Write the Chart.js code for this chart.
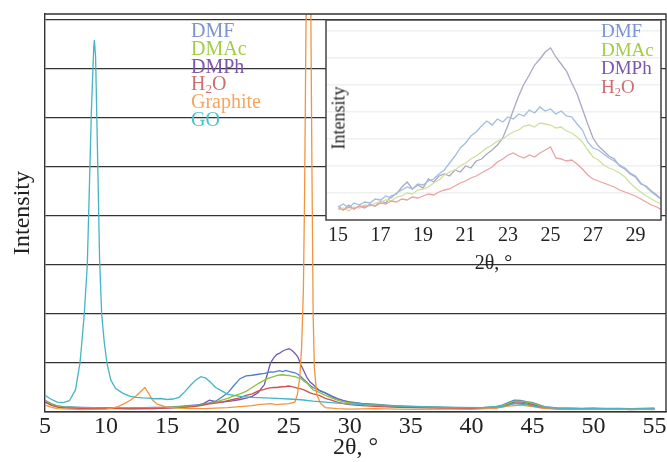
<!DOCTYPE html>
<html>
<head>
<meta charset="utf-8">
<script src="https://cdn.jsdelivr.net/npm/chart.js@4.4.1/dist/chart.umd.min.js"></script>
<style>
  body { margin: 0; background: #fff; }
  #wrap { position: relative; width: 667px; height: 462px; font-family: "Liberation Serif", "Times New Roman", serif; }
  #main { position: absolute; left: 0; top: 0; }
  #inset { position: absolute; left: 300px; top: 0; }
  .legend { position: absolute; line-height: 17.8px; font-size: 20px; white-space: nowrap; }
  .legend div { height: 17.8px; }
  .legend sub { font-size: 0.65em; vertical-align: -0.25em; line-height: 0; }
  #insetLegend { left: 601px; top: 22px; font-size: 19px; line-height: 18.5px; }
  #insetLegend div { height: 18.5px; }
  #mainLegend { left: 191px; top: 22px; }
  #insetYTitle { position: absolute; left: 339px; top: 118px; font-size: 18px; transform: translate(-50%, -50%) rotate(-90deg); white-space: nowrap; color: #222; }
</style>
</head>
<body>
<div id="wrap">
  <canvas id="main" width="667" height="462"></canvas>
  <canvas id="inset" width="367" height="285"></canvas>
  <div class="legend" id="mainLegend">
    <div style="color:#7b93d2">DMF</div>
    <div style="color:#a4cc45">DMAc</div>
    <div style="color:#7d55ad">DMPh</div>
    <div style="color:#cf6e6e">H<sub>2</sub>O</div>
    <div style="color:#f7a55c">Graphite</div>
    <div style="color:#48c2cf">GO</div>
  </div>
  <div class="legend" id="insetLegend">
    <div style="color:#7b93d2">DMF</div>
    <div style="color:#a4cc45">DMAc</div>
    <div style="color:#7d55ad">DMPh</div>
    <div style="color:#cf6e6e">H<sub>2</sub>O</div>
  </div>
  <div id="insetYTitle">Intensity</div>
</div>
<script>
// main pattern, 2θ from 5 to 55
const mainTicks = [5, 10, 15, 20, 25, 30, 35, 40, 45, 50, 55];
const mainGrid = [0, 1000, 2000, 3000, 4000, 5000, 6000, 7000, 8000];

const solventTheta = [
  5, 5.5, 6, 6.5, 7, 8, 9, 10, 11, 12,
  13, 14, 15, 16, 17, 17.5, 18, 18.5, 19, 19.5,
  20, 20.5, 21, 21.5, 22, 22.5, 23, 23.25, 23.5, 23.75,
  24, 24.25, 24.5, 24.75, 25, 25.25, 25.5, 25.75, 26, 26.25,
  26.5, 26.75, 27, 27.5, 28, 28.5, 29, 29.5, 30, 31,
  32, 33, 34, 35, 36, 37, 38, 39, 40, 41,
  42, 42.5, 43, 43.5, 44, 44.5, 45, 45.5, 46, 47,
  48, 49, 50, 51, 52, 53, 54, 55
];
const dmf = [
  240, 170, 125, 110, 105, 95, 90, 90, 85, 85,
  90, 95, 100, 115, 135, 145, 160, 185, 220, 300,
  390, 540, 680, 735, 750, 770, 790, 805, 820, 815,
  830, 845, 825, 850, 830, 815, 800, 770, 720, 660,
  600, 540, 500, 440, 385, 320, 260, 225, 205, 175,
  160, 140, 125, 115, 110, 100, 95, 90, 90, 95,
  110, 140, 190, 240, 235, 210, 190, 150, 110, 85,
  80, 75, 80, 70, 75, 70, 75, 80
];
const dmac = [
  230, 160, 120, 100, 95, 90, 85, 85, 80, 80,
  85, 90, 95, 105, 120, 130, 150, 175, 200, 240,
  280, 330, 370, 420, 500, 580, 650, 680, 700, 720,
  740, 755, 760, 750, 745, 730, 720, 700, 680, 630,
  590, 520, 450, 400, 340, 290, 240, 205, 185, 160,
  145, 130, 115, 105, 100, 95, 90, 85, 85, 90,
  100, 130, 175, 220, 220, 200, 175, 140, 100, 80,
  75, 70, 75, 65, 70, 65, 70, 75
];
const dmph = [
  220, 150, 115, 95, 90, 85, 90, 80, 75, 70,
  75, 70, 85, 95, 120, 140, 170, 240, 210, 200,
  215, 230, 255, 285, 320, 400, 560, 780, 1000, 1100,
  1170, 1200, 1245, 1270, 1290, 1260, 1200, 1120, 960, 830,
  700, 610, 560, 440, 390, 330, 275, 230, 200, 165,
  145, 125, 115, 105, 100, 95, 90, 85, 80, 85,
  95, 115, 160, 200, 210, 185, 160, 110, 85, 70,
  65, 60, 70, 60, 65, 55, 60, 65
];
const water = [
  200, 140, 100, 85, 80, 75, 70, 75, 70, 65,
  70, 75, 80, 90, 105, 120, 140, 165, 180, 200,
  230, 260, 290, 340, 370, 430, 460, 480, 490, 500,
  500, 510, 515, 520, 530, 520, 500, 480, 470, 450,
  420, 390, 370, 340, 280, 240, 200, 170, 150, 130,
  115, 105, 95, 90, 85, 80, 75, 75, 70, 75,
  85, 105, 140, 175, 180, 160, 140, 110, 80, 65,
  60, 55, 60, 55, 60, 50, 55, 60
];

const graphiteTheta = [
  5, 5.5, 6, 7, 8, 9, 10, 10.5, 11, 11.5,
  12, 12.5, 12.9, 13.2, 13.5, 13.8, 14.2, 15, 16, 17,
  18, 19, 20, 21, 22, 22.5, 23, 23.5, 24, 24.5,
  25, 25.5, 25.7, 25.9, 26.05, 26.2, 26.3, 26.4, 26.5, 26.6,
  26.7, 26.8, 26.9, 27.0, 27.1, 27.3, 27.6, 28, 29, 30,
  32, 35, 38, 40, 42, 43, 44, 45, 46, 48,
  50, 52, 55
];
const graphite = [
  140, 100, 70, 60, 50, 55, 60, 80, 110, 170,
  240, 330, 430, 500, 380, 250, 160, 100, 80, 70,
  70, 80, 90, 110, 130, 150, 160, 170, 150, 160,
  170, 200, 350, 700, 1300, 2500, 4500, 7500, 10000, 12000,
  11000, 8500, 5000, 2000, 900, 350, 180, 90, 70, 60,
  70, 55, 60, 55, 80, 120, 140, 110, 70, 60,
  55, 60, 50
];

const goTheta = [
  5, 5.5, 6, 6.5, 7, 7.5, 7.87, 8.05, 8.22, 8.47,
  8.6, 8.8, 9.0, 9.05, 9.15, 9.3, 9.48, 9.65, 9.85, 10.08,
  10.4, 10.8, 11.4, 12, 12.5, 13, 13.5, 14, 14.5, 15,
  15.5, 16, 16.5, 17, 17.4, 17.8, 18.2, 18.6, 19, 19.5,
  20, 20.5, 21, 22, 23, 24, 25, 26, 27, 28,
  29, 30, 31, 32, 33, 34, 35, 37, 39, 41,
  42.5, 43.5, 44.5, 45.5, 47, 49, 51, 53, 55
];
const go = [
  340, 260, 200, 190, 230, 450, 1000, 1500, 2000, 3000,
  4200, 6100, 7450, 7590, 7250, 5400, 3100, 2000, 1450, 1000,
  650, 480, 380, 320, 300, 290, 285, 270, 275, 255,
  265, 300, 420, 560, 660, 720, 690, 600, 500, 430,
  360, 340, 320, 300, 290, 280, 265, 250, 220, 200,
  180, 165, 150, 140, 130, 120, 115, 100, 95, 90,
  110, 170, 150, 100, 80, 70, 75, 65, 70
];

// inset, 2θ from 15 to 30
const insetTicks = [15, 17, 19, 21, 23, 25, 27, 29];
const insetGrid = [270, 540, 810, 1080, 1350, 1620, 1890];
const insetTheta = [
  15, 15.25, 15.5, 15.75, 16, 16.25, 16.5, 16.75,
  17, 17.25, 17.5, 17.75, 18, 18.25, 18.5, 18.75,
  19, 19.25, 19.5, 19.75, 20, 20.25, 20.5, 20.75,
  21, 21.25, 21.5, 21.75, 22, 22.25, 22.5, 22.75,
  23, 23.25, 23.5, 23.75, 24, 24.25, 24.5, 24.75,
  25, 25.25, 25.5, 25.75, 26, 26.25, 26.5, 26.75,
  27, 27.25, 27.5, 27.75, 28, 28.25, 28.5, 28.75,
  29, 29.25, 29.5, 29.75, 30, 30.25
];
const insetDmf = [
  130, 160, 120, 170, 150, 180, 170, 210,
  200, 240, 220, 270, 300, 330, 310, 360,
  350, 390, 410, 460, 500, 570, 640, 720,
  770, 840, 880, 940, 990, 950, 1010, 980,
  1030, 1010, 1060, 1040, 1100, 1070, 1130, 1090,
  1110, 1060, 1090, 1040, 1030, 960, 900, 780,
  720, 700, 660, 620, 590, 550, 520, 470,
  440, 370, 330, 280, 240, 200
];
const insetDmac = [
  100, 120, 90, 130, 120, 150, 140, 170,
  180, 200, 190, 230, 240, 270, 260, 300,
  310, 330, 370, 400, 450, 480, 500, 540,
  570, 610, 640, 680, 720, 750, 790, 810,
  850, 880, 900, 940, 950, 930, 970, 960,
  950, 920, 930, 890, 870, 830, 780, 700,
  630, 600, 550, 520, 500, 470, 430, 370,
  320, 280, 240, 210, 180, 160
];
const insetDmph = [
  140, 100, 150, 110, 140, 120, 160, 140,
  190, 170, 240, 260, 330, 380, 310, 350,
  320, 410, 380, 440, 460, 440, 500, 480,
  540, 520, 590, 610, 660, 700, 750, 820,
  950, 1100, 1240, 1360, 1450, 1550, 1610, 1680,
  1720, 1630, 1560, 1490, 1370, 1260, 1110, 960,
  820, 740, 690, 640, 610, 540, 510, 460,
  430, 360, 340, 290, 250, 200
];
const insetWater = [
  120, 100, 130, 110, 140, 130, 150, 140,
  170, 160, 190, 180, 210, 200, 230, 220,
  240, 260, 250, 280, 300, 310, 340, 370,
  390, 420, 440, 470, 500, 530, 580, 610,
  650, 670, 640, 620, 650, 630, 670, 700,
  730, 620, 610, 590, 600, 560, 510, 450,
  410, 390, 370, 350, 330, 300, 280, 260,
  240, 210, 180, 150, 130, 100
];

const pts = (xs, ys) => xs.map((x, i) => ({ x: x, y: ys[i] }));
const serif = '"Liberation Serif", "Times New Roman", serif';

function series(label, xs, ys, color) {
  return { label: label, data: pts(xs, ys), borderColor: color, borderWidth: 1.3, pointRadius: 0, fill: false, tension: 0 };
}

const frame = {
  id: 'frame',
  afterDraw(c) {
    const a = c.chartArea, ctx = c.ctx;
    ctx.save();
    ctx.strokeStyle = '#333';
    ctx.lineWidth = 1.4;
    ctx.beginPath();
    ctx.moveTo(a.left, a.top);
    ctx.lineTo(a.right, a.top);
    ctx.lineTo(a.right, a.bottom);
    ctx.stroke();
    ctx.restore();
  }
};

new Chart(document.getElementById('main'), {
  type: 'line',
  data: {
    datasets: [
      series('GO', goTheta, go, '#45b5c5'),
      series('Graphite', graphiteTheta, graphite, '#f29540'),
      series('H2O', solventTheta, water, '#d05050'),
      series('DMAc', solventTheta, dmac, '#8fbf3f'),
      series('DMF', solventTheta, dmf, '#4f7fc6'),
      series('DMPh', solventTheta, dmph, '#7357b0')
    ]
  },
  options: {
    responsive: false,
    animation: false,
    layout: { padding: { top: 14, right: 1, left: 0, bottom: 0 } },
    plugins: { legend: { display: false }, tooltip: { enabled: false } },
    scales: {
      x: {
        type: 'linear', min: 5, max: 55.95, bounds: 'data',
        afterBuildTicks: (s) => { s.ticks = mainTicks.map(v => ({ value: v })); },
        afterFit: (s) => { s.height = 50; s.paddingLeft = 0; s.paddingRight = 0; },
        ticks: { font: { family: serif, size: 24 }, color: '#222', padding: 0, maxRotation: 0, autoSkip: false },
        grid: { display: false, drawTicks: false },
        border: { color: '#333', width: 1.4 },
        title: { display: true, text: '2θ, °', font: { family: serif, size: 24 }, color: '#222', padding: { top: 0, bottom: 0 } }
      },
      y: {
        min: 0, max: 8120, bounds: 'data',
        afterBuildTicks: (s) => { s.ticks = mainGrid.map(v => ({ value: v })); },
        afterFit: (s) => { s.width = 45; },
        ticks: { display: false },
        grid: { color: '#333', lineWidth: 1.2, drawTicks: false },
        border: { color: '#333', width: 1.4 },
        title: { display: true, text: 'Intensity', font: { family: serif, size: 24 }, color: '#222', padding: { top: 8, bottom: 0 } }
      }
    }
  },
  plugins: [frame]
});

const insetBox = {
  id: 'insetBox',
  beforeDraw(c) {
    const a = c.chartArea, ctx = c.ctx;
    ctx.save();
    ctx.fillStyle = '#fff';
    ctx.fillRect(a.left, a.top, a.right - a.left, a.bottom - a.top);
    ctx.restore();
  },
  afterDraw(c) {
    const a = c.chartArea, ctx = c.ctx;
    ctx.save();
    ctx.strokeStyle = '#444';
    ctx.lineWidth = 1.5;
    ctx.strokeRect(a.left, a.top, a.right - a.left, a.bottom - a.top);
    ctx.restore();
  }
};

new Chart(document.getElementById('inset'), {
  type: 'line',
  data: {
    datasets: [
      series('H2O', insetTheta, insetWater, '#eba3a3'),
      series('DMAc', insetTheta, insetDmac, '#cfe09e'),
      series('DMF', insetTheta, insetDmf, '#a3bde0'),
      series('DMPh', insetTheta, insetDmph, '#aaa8ca')
    ]
  },
  options: {
    responsive: false,
    animation: false,
    layout: { padding: { top: 20, right: 6, left: 26, bottom: 0 } },
    plugins: { legend: { display: false }, tooltip: { enabled: false } },
    scales: {
      x: {
        type: 'linear', min: 14.43, max: 30.2, bounds: 'data',
        afterBuildTicks: (s) => { s.ticks = insetTicks.map(v => ({ value: v })); },
        afterFit: (s) => { s.height = 65; s.paddingLeft = 0; s.paddingRight = 0; },
        ticks: { font: { family: serif, size: 20 }, color: '#222', padding: 4, maxRotation: 0, autoSkip: false },
        grid: { display: false, drawTicks: false },
        border: { display: false },
        title: { display: true, text: '2θ, °', font: { family: serif, size: 20 }, color: '#222', padding: { top: 0, bottom: 9 } }
      },
      y: {
        min: 0, max: 2000, bounds: 'data',
        afterBuildTicks: (s) => { s.ticks = insetGrid.map(v => ({ value: v })); },
        afterFit: (s) => { s.width = 0; },
        ticks: { display: false },
        grid: { color: '#edf1f1', lineWidth: 1.5, drawTicks: false },
        border: { display: false }
      }
    }
  },
  plugins: [insetBox]
});
</script>
</body>
</html>
